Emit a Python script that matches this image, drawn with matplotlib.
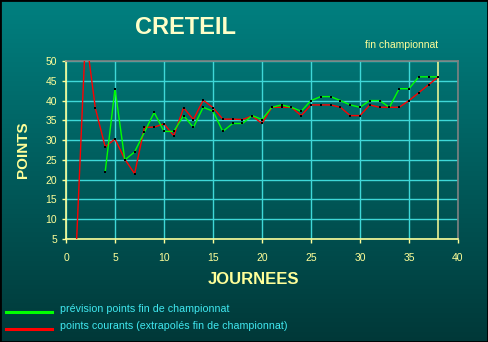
"""
plot.py

Evolution des points de CRETEIL au fil des journees :
prevision de fin de championnat et points courants extrapoles.
"""

import numpy as np
import matplotlib
matplotlib.use("Agg")
import matplotlib.pyplot as plt
from matplotlib.lines import Line2D
from matplotlib.patches import Rectangle

# Donnees
journees_courants = list(range(1, 39))
points_courants = [0, 57, 38, 28.3, 30.3, 25.2, 21.5, 33.2, 33.3, 34.1,
                   31.1, 38.2, 35.2, 40.1, 38.2, 35.3, 35.3, 35.2, 36.1, 34.2,
                   38.3, 38.3, 38.3, 36.2, 38.9, 38.9, 38.9, 38.3, 36.2, 36.2,
                   38.9, 38.3, 38.3, 38.3, 40.0, 42.0, 44.0, 46.0]

journees_prevision = list(range(4, 39))
points_prevision = [22, 43, 25, 27, 32, 37, 32.2, 32.2, 36.2, 33.2,
                    38.3, 37.3, 32.2, 34.2, 34.2, 36.2, 35.2, 38.3, 38.9, 38.3,
                    37.3, 40, 41, 41, 40, 38.9, 38.3, 40, 40, 38.3,
                    43, 43, 46, 46, 46]

x_ticks = list(range(0, 45, 5))
y_ticks = list(range(5, 55, 5))
fin_championnat = 38

titre = "CRETEIL"
label_x = "JOURNEES"
label_y = "POINTS"
label_prevision = "prévision points fin de championnat"
label_courants = "points courants (extrapolés fin de championnat)"

# Couleurs
JAUNE = "#FFFF99"
TITRE = "#FFFFC8"
GRILLE = "#3FD8D8"
CYAN = "#40E8F0"

plt.rcParams["font.family"] = ["Liberation Sans", "DejaVu Sans"]

fig = plt.figure(figsize=(4.88, 3.42), dpi=100)

# fond en degrade
bg = fig.add_axes([0, 0, 1, 1], zorder=-10)
grad = np.linspace(0, 1, 256).reshape(-1, 1)
top = np.array([0, 128, 128]) / 255
bottom = np.array([0, 56, 56]) / 255
img = top + (bottom - top) * grad[..., None]
bg.imshow(img, aspect="auto", extent=[0, 1, 0, 1])
bg.set_axis_off()
bg.add_patch(Rectangle((0, 0), 1, 1, transform=bg.transAxes, fill=False,
                       edgecolor="black", lw=2))

ax = fig.add_axes([66 / 488, 103 / 342, 392 / 488, 178 / 342])
ax.set_facecolor("none")

ax.plot(journees_courants, points_courants, color="#FF0000", lw=1.0,
        marker="s", ms=1.8, mew=0, mfc="black", zorder=3)
ax.plot(journees_prevision, points_prevision, color="#00FF00", lw=1.0,
        marker="s", ms=1.8, mew=0, mfc="black", zorder=4)

ax.axvline(fin_championnat, color=JAUNE, lw=1.1, zorder=2)

ax.set_xlim(0, 40)
ax.set_ylim(5, 50)
ax.set_xticks(x_ticks)
ax.set_yticks(y_ticks)
ax.grid(True, color=GRILLE, lw=1.0, zorder=1)
ax.set_axisbelow(True)

ax.tick_params(axis="both", colors=JAUNE, labelsize=7.5, length=3, width=1,
               direction="out")
ax.tick_params(axis="x", pad=7)
ax.tick_params(axis="y", pad=3.5)

for side in ("left", "bottom"):
    ax.spines[side].set_color(JAUNE)
    ax.spines[side].set_linewidth(1.2)
for side in ("right", "top"):
    ax.spines[side].set_color("#808080")
    ax.spines[side].set_linewidth(1.2)

# textes
fig.text(185 / 488, 1 - 27 / 342, titre, color=TITRE, fontsize=17,
         fontweight="bold", ha="center", va="center")
fig.text(402 / 488, 1 - 45 / 342, "fin championnat", color=JAUNE, fontsize=7.5,
         ha="center", va="center")
fig.text(23 / 488, 1 - 150 / 342, label_y, color=JAUNE, fontsize=11,
         fontweight="bold", rotation=90, ha="center", va="center")
fig.text(253 / 488, 1 - 280 / 342, label_x, color=JAUNE, fontsize=12,
         fontweight="bold", ha="center", va="center")

# legende
for y, color, label in ((312, "#00FF00", label_prevision),
                        (329, "#FF0000", label_courants)):
    fig.add_artist(Line2D([6 / 488, 52 / 488], [1 - y / 342, 1 - y / 342],
                          color=color, lw=2.2))
    fig.text(60 / 488, 1 - (y - 3) / 342, label, color=CYAN, fontsize=7.7,
             ha="left", va="center")

fig.savefig("out.png", dpi=100)
